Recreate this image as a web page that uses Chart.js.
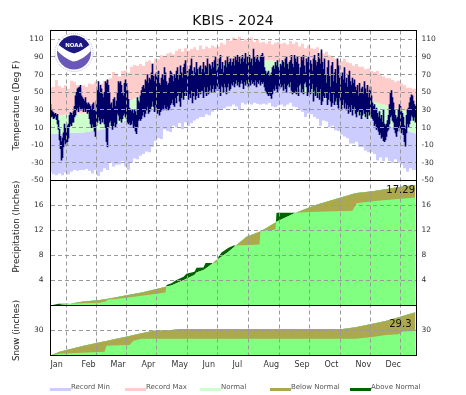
<!DOCTYPE html>
<html>
<head>
<meta charset="utf-8">
<title>KBIS - 2024</title>
<script src="https://cdn.jsdelivr.net/npm/chart.js@4"></script>
<style>
  html, body { margin: 0; padding: 0; background: #fff; }
  canvas { display: block; }
</style>
</head>
<body>
<canvas id="kbis" width="466" height="395"></canvas>
<script>
// month labels and where they start (day of year)
const months = ["Jan", "Feb", "Mar", "Apr", "May", "Jun", "Jul", "Aug", "Sep", "Oct", "Nov", "Dec"];
const monthStarts = [0, 31, 60, 91, 121, 152, 182, 213, 244, 274, 305, 335];

const tempTicks = [-50, -30, -10, 10, 30, 50, 70, 90, 110];
const precipTicks = [4, 8, 12, 16];
const snowTicks = [30];

// records and normals, read every third day
const bandDays = [0,3,6,9,12,15,18,21,24,27,30,33,36,39,42,45,48,51,54,57,60,63,66,69,72,75,78,81,84,87,90,93,96,99,102,105,108,111,114,117,120,123,126,129,132,135,138,141,144,147,150,153,156,159,162,165,168,171,174,177,180,183,186,189,192,195,198,201,204,207,210,213,216,219,222,225,228,231,234,237,240,243,246,249,252,255,258,261,264,267,270,273,276,279,282,285,288,291,294,297,300,303,306,309,312,315,318,321,324,327,330,333,336,339,342,345,348,351,354,357,360,363,366];
const recordMax = [55,56,64,57,55,58,54,63,62,58,55,
  58,56,60,59,62,55,60,63,64,66,
  73,71,68,74,75,72,79,81,80,82,
  80,85,86,83,88,87,92,90,94,95,
  93,97,99,96,100,97,99,101,98,103,
  99,102,100,103,101,102,106,104,110,108,
  112,110,113,108,110,108,112,107,110,106,
  107,105,108,104,106,107,105,106,104,108,105,
  107,102,105,100,103,100,99,101,95,94,
  96,92,90,88,86,85,88,84,83,80,
  82,79,79,76,77,74,73,74,71,68,
  66,66,64,62,63,60,58,55,55,54,54];
const recordMin = [-40,-43,-44,-42,-44,-41,-43,-40,-38,-39,-38,
  -38,-37,-39,-42,-38,-45,-40,-36,-38,-30,
  -34,-32,-32,-28,-34,-38,-30,-25,-26,-22,
  -20,-17,-18,-12,-5,-2,-3,8,6,5,
  12,10,15,8,16,12,15,18,20,22,
  22,25,24,28,30,30,31,32,34,34,
  36,34,30,38,36,38,36,38,37,36,
  37,36,38,34,33,35,36,34,36,38,34,
  33,30,28,22,26,25,22,20,12,18,
  17,10,12,7,6,2,0,-2,-8,-8,
  -6,-12,-12,-16,-18,-18,-20,-27,-24,-28,
  -24,-28,-30,-26,-30,-32,-36,-40,-36,-38,-38];
const normalHigh = [24,24,24,24,24,25,25,25,25,26,26,
  26,27,27,28,28,29,30,31,31,32,
  33,34,35,37,38,40,41,43,45,46,
  48,50,51,53,55,56,58,60,61,63,
  64,66,67,69,70,71,72,73,75,76,
  77,78,79,80,81,81,82,82,83,83,
  84,84,85,85,85,86,86,86,86,86,
  86,86,86,86,85,85,84,84,83,83,82,
  81,80,79,78,76,75,74,72,71,69,
  68,66,65,63,61,59,57,55,53,51,
  49,47,46,44,42,41,39,38,37,36,
  35,34,33,32,31,30,29,28,27,25,24];
const normalLow = [3,3,3,3,3,3,3,4,4,4,4,
  4,5,5,6,7,7,8,9,10,11,
  13,14,15,17,18,19,20,22,23,25,
  26,27,29,30,32,33,35,36,37,39,
  40,41,43,44,45,46,48,49,50,52,
  53,54,55,56,57,57,58,58,59,59,
  59,60,60,60,60,60,61,61,61,61,
  61,61,60,60,59,59,58,57,57,56,55,
  54,53,52,51,50,49,48,46,45,43,
  42,40,39,37,35,34,32,30,29,27,
  25,24,22,21,20,19,17,16,15,14,
  13,12,11,10,9,8,7,6,5,4,3];

// observed daily high and low, one value per day
const obsHigh = [36,30,28,27,25,26,24,25,18,8,0,-6,-2,4,14,10,8,12,14,24,27,26,24,28,34,46,50,54,55,56,58,
  46,44,42,40,44,38,36,38,36,34,30,36,38,30,28,40,52,62,50,58,54,48,44,50,62,60,64,58,50,
  36,38,32,42,44,34,40,50,62,60,62,58,50,46,60,64,60,52,42,32,30,28,30,26,30,28,24,44,40,38,46,
  52,56,58,54,64,62,70,60,66,64,72,82,68,62,70,72,66,74,60,58,66,70,64,78,72,62,58,60,66,74,
  72,68,62,70,66,74,78,64,70,80,72,66,78,82,86,70,74,68,76,80,88,74,68,78,72,84,76,70,78,80,72,
  76,84,72,80,78,88,70,82,80,76,84,78,86,90,74,82,78,88,92,76,84,72,80,86,78,90,82,84,88,80,
  84,88,80,90,86,92,84,90,82,88,92,84,88,94,82,90,86,92,84,88,80,99,90,84,88,92,86,84,90,92,94,
  90,78,74,70,72,74,68,70,72,78,80,76,84,80,86,78,74,82,80,86,84,78,88,90,82,76,84,86,92,82,78,
  92,88,84,90,82,70,78,90,86,92,80,72,88,84,90,76,86,82,74,88,92,86,80,84,94,88,82,98,84,76,
  88,70,60,78,86,68,56,80,84,62,72,76,60,88,80,66,58,68,72,64,78,60,66,56,70,74,62,58,66,60,64,
  56,52,58,46,60,50,54,56,48,62,54,50,58,44,52,56,46,38,34,36,30,32,26,22,28,20,24,16,30,14,
  12,14,18,24,36,50,52,44,38,30,24,20,22,30,36,34,28,26,22,12,8,24,30,32,38,44,47,46,40,36,34];
const obsLow = [24,22,23,20,21,23,19,14,8,-4,-14,-27,-24,-12,-4,-8,-10,-6,-2,11,14,12,16,16,22,24,30,32,28,34,30,
  30,32,28,32,28,30,26,28,20,14,10,14,10,6,0,12,16,22,18,14,20,16,20,14,10,-6,-12,10,16,
  18,12,8,12,16,10,14,26,24,18,20,16,20,24,26,22,20,16,14,16,13,14,18,10,12,6,3,10,18,20,18,
  20,24,28,22,26,30,34,26,28,30,34,40,34,28,36,30,26,30,24,28,30,32,30,36,32,30,34,30,32,36,
  38,42,36,34,44,38,46,48,40,34,44,50,42,46,52,46,50,42,48,44,52,38,46,50,42,46,54,44,50,48,52,
  52,44,56,50,46,56,48,52,58,50,54,58,50,54,58,52,60,54,46,58,56,50,60,56,48,56,60,52,54,60,
  58,62,56,60,64,58,62,56,60,64,60,54,62,58,64,60,56,62,58,64,60,62,58,64,56,62,60,64,58,62,60,
  62,56,52,50,48,46,48,46,43,48,54,52,58,54,50,58,54,60,56,58,52,60,54,50,58,60,56,62,52,48,50,
  50,52,48,56,46,58,60,50,54,48,60,62,56,46,50,58,48,54,60,40,52,46,56,44,50,42,54,36,40,46,
  44,50,44,36,42,50,40,34,38,48,36,40,44,36,32,44,40,30,36,42,32,38,30,36,26,34,28,36,24,30,34,
  26,22,28,30,24,28,20,24,30,26,22,28,20,28,24,30,22,20,18,12,14,8,10,6,2,4,-2,0,-5,-6,
  -4,0,6,8,14,22,24,18,16,8,4,0,6,10,12,6,4,8,2,-6,-11,4,14,10,14,18,24,22,18,22,16];

// accumulated precipitation
const precipDays = [0,8,9,18,31,49,56,57,63,76,91,106,115,116,121,126,133,136,144,146,153,155,161,166,168,171,178,183,196,209,210,222,225,226,244,265,302,306,322,350,365];
const precipNormal = [0,0.1,0.1,0.25,0.6,0.9,1.05,1.08,1.25,1.65,2.1,2.65,3,3.03,3.2,3.55,4.05,4.3,4.9,5.3,5.7,5.9,6.6,7.3,7.5,7.8,8.6,9.3,11,11.8,11.85,13,13.3,13.4,14.75,16.1,17.85,18,18.3,19,19.3];
const precipObs = [0,0.3,0.3,0.3,0.35,0.45,0.7,0.95,1,1.25,1.57,1.9,2.1,3.3,3.55,4.08,4.6,5.1,5.4,6.05,6.1,6.8,6.8,6.9,7.8,8.5,9.25,9.6,9.7,9.75,12,12.1,12.2,14.85,14.85,15,15.15,16.35,16.7,17.1,17.29];

// accumulated snow
const snowDays = [0,9,31,54,56,60,79,83,91,103,121,129,292,305,322,335,348,352,365];
const snowNormal = [0,4.6,11,17,17.5,18.6,23.5,24.6,26.6,29.8,30.6,31.8,31.8,34,38,41.4,46,47.5,51.8];
const snowObs = [0,2.2,3.4,4.6,11.8,12,12.6,17.8,20.2,20.2,20.2,20.2,20.2,20.2,22.2,24.6,25.4,28.8,29.3];

const legendNames = ["Record Min", "Record Max", "Normal", "Below Normal", "Above Normal"];
const legendColors = ["#ccccff", "#ffcccc", "#ccffcc", "#aca84e", "#006400"];
const legendLeft = [50, 125, 200, 270, 350];

const tickFont = { family: "DejaVu Sans", size: 7.5 };

function xy(days, values) {
  return days.map((d, i) => ({ x: d, y: values[i] }));
}

function band(values, target, color, yAxisID) {
  return {
    type: "line", data: xy(bandDays, values), yAxisID: yAxisID, stepped: "middle",
    borderWidth: 0, pointRadius: 0, fill: target === null ? false : { target: target, above: color, below: color }
  };
}

function area(days, values, fill, yAxisID) {
  return {
    type: "line", data: xy(days, values), yAxisID: yAxisID,
    borderWidth: 0, pointRadius: 0, tension: 0, fill: fill
  };
}

function yScale(position, ticks, min, max, weight, title) {
  let scale = {
    type: "linear", position: position, stack: position, stackWeight: max === 120 ? 150 : (max === 20 ? 125 : 50),
    weight: weight, min: min, max: max,
    afterBuildTicks: s => { s.ticks = ticks.map(v => ({ value: v })); },
    afterFit: s => { s.width = position === "left" ? 50.5 : 49.5; },
    border: { display: false, dash: [4, 3] },
    grid: position === "left"
      ? { color: "#999", lineWidth: 1, drawTicks: false, z: 1 }
      : { display: false, drawTicks: false },
    ticks: { font: tickFont, color: "#333", padding: position === "left" ? 7 : 5, autoSkip: false }
  };
  if (title) {
    scale.title = { display: true, text: title.text, align: title.align || "center",
      font: { family: "DejaVu Sans", size: 8.7 }, color: "#222", padding: { top: 12, bottom: 0 } };
  }
  return scale;
}

// NOAA badge, frame, legend and the year end totals
const decorations = {
  id: "decorations",
  afterDraw(chart) {
    const ctx = chart.ctx;
    const area = chart.chartArea;
    const s = chart.scales;
    ctx.save();

    ctx.strokeStyle = "#000";
    ctx.lineWidth = 1;
    ctx.setLineDash([]);
    ctx.strokeRect(area.left, area.top, area.right - area.left, area.bottom - area.top);
    ctx.beginPath();
    ctx.moveTo(area.left, s.yTemp.bottom);
    ctx.lineTo(area.right, s.yTemp.bottom);
    ctx.moveTo(area.left, s.yPrecip.bottom);
    ctx.lineTo(area.right, s.yPrecip.bottom);
    ctx.stroke();

    // logo
    const cx = 74, cy = 52.5;
    ctx.beginPath();
    ctx.arc(cx, cy, 19, 0, Math.PI * 2);
    ctx.fillStyle = "#fff";
    ctx.fill();
    ctx.strokeStyle = "#b8b8d8";
    ctx.lineWidth = 1;
    ctx.setLineDash([1, 1]);
    ctx.stroke();
    ctx.setLineDash([]);
    ctx.save();
    ctx.beginPath();
    ctx.arc(cx, cy, 17, 0, Math.PI * 2);
    ctx.clip();
    ctx.fillStyle = "#6a58b8";
    ctx.fillRect(cx - 18, cy - 18, 36, 36);
    ctx.beginPath();
    ctx.moveTo(cx - 18, cy - 18);
    ctx.lineTo(cx + 18, cy - 18);
    ctx.lineTo(cx + 18, cy - 10);
    ctx.quadraticCurveTo(cx + 8, cy - 1, cx, cy + 1);
    ctx.quadraticCurveTo(cx - 8, cy - 1, cx - 18, cy - 10);
    ctx.closePath();
    ctx.fillStyle = "#1c1880";
    ctx.fill();
    ctx.beginPath();
    ctx.moveTo(cx - 18, cy - 10);
    ctx.quadraticCurveTo(cx - 8, cy - 1, cx, cy + 1);
    ctx.quadraticCurveTo(cx + 8, cy - 1, cx + 18, cy - 10);
    ctx.lineTo(cx + 18, cy - 3);
    ctx.quadraticCurveTo(cx + 9, cy + 8, cx - 1, cy + 9);
    ctx.quadraticCurveTo(cx - 10, cy + 6, cx - 18, cy - 3);
    ctx.closePath();
    ctx.fillStyle = "#fff";
    ctx.fill();
    ctx.restore();
    ctx.fillStyle = "#fff";
    ctx.font = "bold 5.5px 'DejaVu Sans'";
    ctx.textAlign = "center";
    ctx.textBaseline = "middle";
    ctx.fillText("NOAA", cx, cy - 7);

    // totals
    ctx.fillStyle = "#111";
    ctx.font = "10px 'DejaVu Sans'";
    ctx.textAlign = "right";
    ctx.fillText("17.29", 415, 190.5);
    ctx.fillText("29.3", 411.5, 324.5);

    // legend
    ctx.font = "7px 'DejaVu Sans'";
    ctx.textAlign = "left";
    legendNames.forEach((name, i) => {
      ctx.fillStyle = legendColors[i];
      ctx.fillRect(legendLeft[i], 388, 21, 3);
      ctx.fillStyle = "#555";
      ctx.fillText(name, legendLeft[i] + 21, 387);
    });
    ctx.restore();
  }
};

new Chart(document.getElementById("kbis"), {
  type: "line",
  data: {
    datasets: [
      { type: "bar", yAxisID: "yTemp", data: obsHigh.map((h, i) => ({ x: i, y: [obsLow[i], h] })),
        backgroundColor: "#000066", barThickness: 1, grouped: false, borderWidth: 0 },
      band(recordMax, 2, "#ffcccc", "yTemp"),
      band(normalHigh, 3, "#ccffcc", "yTemp"),
      band(normalLow, 4, "#ccccff", "yTemp"),
      band(recordMin, null, null, "yTemp"),
      area(precipDays, precipObs, { target: 6, above: "#006400", below: "#aca84e" }, "yPrecip"),
      area(precipDays, precipNormal, { target: "origin", above: "#80ff80", below: "#80ff80" }, "yPrecip"),
      area(snowDays, snowObs, { target: 8, above: "#006400", below: "#aca84e" }, "ySnow"),
      area(snowDays, snowNormal, { target: "origin", above: "#80ff80", below: "#80ff80" }, "ySnow")
    ]
  },
  options: {
    responsive: false,
    animation: false,
    events: [],
    layout: { padding: 0 },
    plugins: {
      legend: { display: false },
      tooltip: { enabled: false },
      title: { display: true, text: "KBIS - 2024", color: "#111",
        font: { family: "DejaVu Sans", size: 14, weight: "normal" },
        padding: { top: 12.5, bottom: 1.2 } }
    },
    scales: {
      x: {
        type: "linear", min: 0, max: 366, offset: false,
        afterBuildTicks: s => { s.ticks = monthStarts.map(v => ({ value: v })); },
        afterFit: s => { s.height = 39.5; },
        border: { display: false, dash: [4, 3] },
        grid: { color: "#999", lineWidth: 1, drawTicks: false, z: 1 },
        ticks: {
          font: { family: "DejaVu Sans", size: 8 }, color: "#333", padding: 5, align: "start",
          autoSkip: false, maxRotation: 0,
          callback: v => months[monthStarts.indexOf(v)]
        }
      },
      // the left stack is placed from the bottom up, so its weights run the other way
      yTemp: yScale("left", tempTicks, -50, 120, 3, { text: "Temperature (Deg F)" }),
      yPrecip: yScale("left", precipTicks, 0, 20, 2, { text: "Precipitation (Inches)", align: "end" }),
      ySnow: yScale("left", snowTicks, 0, 60, 1, { text: "Snow (inches)" }),
      yTempR: yScale("right", tempTicks, -50, 120, 1),
      yPrecipR: yScale("right", precipTicks, 0, 20, 2),
      ySnowR: yScale("right", snowTicks, 0, 60, 3)
    }
  },
  plugins: [decorations]
});
</script>
</body>
</html>
